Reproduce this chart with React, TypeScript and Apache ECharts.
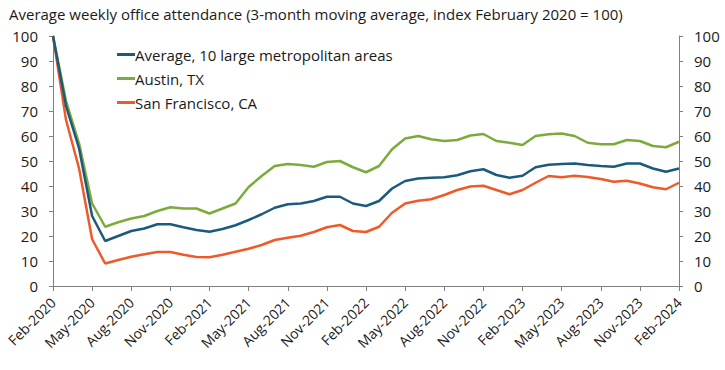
import React, { useEffect, useRef } from "react";
import * as echarts from "echarts";

const TITLE = "Average weekly office attendance (3-month moving average, index February 2020 = 100)";

const months: string[] = [
  "Feb-2020", "Mar-2020", "Apr-2020", "May-2020", "Jun-2020", "Jul-2020", "Aug-2020", "Sep-2020", "Oct-2020", "Nov-2020", "Dec-2020", "Jan-2021",
  "Feb-2021", "Mar-2021", "Apr-2021", "May-2021", "Jun-2021", "Jul-2021", "Aug-2021", "Sep-2021", "Oct-2021", "Nov-2021", "Dec-2021", "Jan-2022",
  "Feb-2022", "Mar-2022", "Apr-2022", "May-2022", "Jun-2022", "Jul-2022", "Aug-2022", "Sep-2022", "Oct-2022", "Nov-2022", "Dec-2022", "Jan-2023",
  "Feb-2023", "Mar-2023", "Apr-2023", "May-2023", "Jun-2023", "Jul-2023", "Aug-2023", "Sep-2023", "Oct-2023", "Nov-2023", "Dec-2023", "Jan-2024",
  "Feb-2024",
];

const average10: number[] = [
  100, 72, 55, 28, 18, 20, 22, 23, 24.7, 24.7, 23.5, 22.4,
  21.7, 22.8, 24.3, 26.4, 28.7, 31.3, 32.7, 33, 34, 35.7, 35.7, 33,
  32, 34, 39, 42, 43, 43.3, 43.5, 44.3, 45.9, 46.7, 44.4, 43.3,
  44.1, 47.5, 48.5, 48.8, 49, 48.4, 48, 47.7, 49, 49, 47, 45.7,
  47,
];

const austin: number[] = [
  100, 74, 57, 33, 23.7, 25.5, 27, 28, 30, 31.5, 31, 31,
  29, 31, 33, 39.6, 44, 48, 48.8, 48.4, 47.7, 49.6, 50, 47.5,
  45.5, 48, 54.7, 59, 60, 58.7, 58, 58.4, 60.2, 60.8, 58, 57.3,
  56.4, 60, 60.7, 61, 60, 57.3, 56.7, 56.7, 58.4, 58, 56, 55.5,
  57.7,
];

const sanFrancisco: number[] = [
  100, 66.4, 47, 18.7, 9, 10.4, 11.7, 12.7, 13.6, 13.6, 12.5, 11.6,
  11.5, 12.5, 13.7, 14.9, 16.4, 18.4, 19.3, 20.1, 21.6, 23.5, 24.4, 22,
  21.6, 23.7, 29.3, 33, 34.1, 34.7, 36.4, 38.4, 39.8, 40.1, 38.4, 36.7,
  38.4, 41.3, 44, 43.5, 44.1, 43.6, 42.8, 41.7, 42.1, 41, 39.5, 38.7,
  41.3,
];

const seriesNames = [
  "Average, 10 large metropolitan areas",
  "Austin, TX",
  "San Francisco, CA",
];
const seriesColors = ["#1b5a7c", "#7cab3b", "#ef5a2a"];

const FONT = "'Open Sans', sans-serif";
const TEXT_COLOR = "#1a1a1a";
const AXIS_COLOR = "#808080";

export default function App() {
  const ref = useRef<HTMLDivElement>(null);

  useEffect(() => {
    if (!ref.current) return;
    const chart = echarts.init(ref.current, undefined, { renderer: "svg" });
    const yAxisCommon = {
      type: "value" as const,
      min: 0,
      max: 100,
      interval: 10,
      splitLine: { show: false },
      axisLine: { show: true, lineStyle: { color: AXIS_COLOR, width: 1 } },
      axisTick: { show: true, length: 4, lineStyle: { color: AXIS_COLOR } },
      axisLabel: { color: TEXT_COLOR, fontFamily: FONT, fontSize: 15, margin: 15 },
    };
    const datas = [average10, austin, sanFrancisco];
    chart.setOption({
      animation: false,
      backgroundColor: "#ffffff",
      title: {
        text: TITLE,
        left: 4,
        top: 1,
        textStyle: { color: TEXT_COLOR, fontFamily: FONT, fontSize: 15, fontWeight: "normal" },
      },
      legend: {
        orient: "vertical",
        left: 112,
        top: 42,
        itemWidth: 18,
        itemHeight: 3,
        itemGap: 9,
        icon: "rect",
        data: seriesNames,
        textStyle: { color: TEXT_COLOR, fontFamily: FONT, fontSize: 15, padding: [0, 0, 0, -5] },
      },
      grid: { left: 53, right: 46, top: 36, bottom: 84 },
      xAxis: {
        type: "category",
        data: months,
        boundaryGap: false,
        axisLine: { show: true, lineStyle: { color: AXIS_COLOR, width: 1 } },
        axisTick: { show: true, interval: 2, length: 5, lineStyle: { color: AXIS_COLOR } },
        axisLabel: {
          interval: 2,
          rotate: 45,
          color: TEXT_COLOR,
          fontFamily: FONT,
          fontSize: 14,
          margin: 14,
        },
        splitLine: { show: false },
      },
      yAxis: [
        { ...yAxisCommon, position: "left" },
        { ...yAxisCommon, position: "right" },
      ],
      series: datas.map((d, i) => ({
        name: seriesNames[i],
        type: "line",
        data: d,
        yAxisIndex: 0,
        symbol: "none",
        smooth: false,
        z: i === 0 ? 3 : 2,
        lineStyle: { color: seriesColors[i], width: 2.5 },
        itemStyle: { color: seriesColors[i] },
      })),
    });
    return () => chart.dispose();
  }, []);

  return (
    <div
      ref={ref}
      style={{ position: "fixed", left: 0, top: 0, width: 725, height: 370 }}
    />
  );
}
